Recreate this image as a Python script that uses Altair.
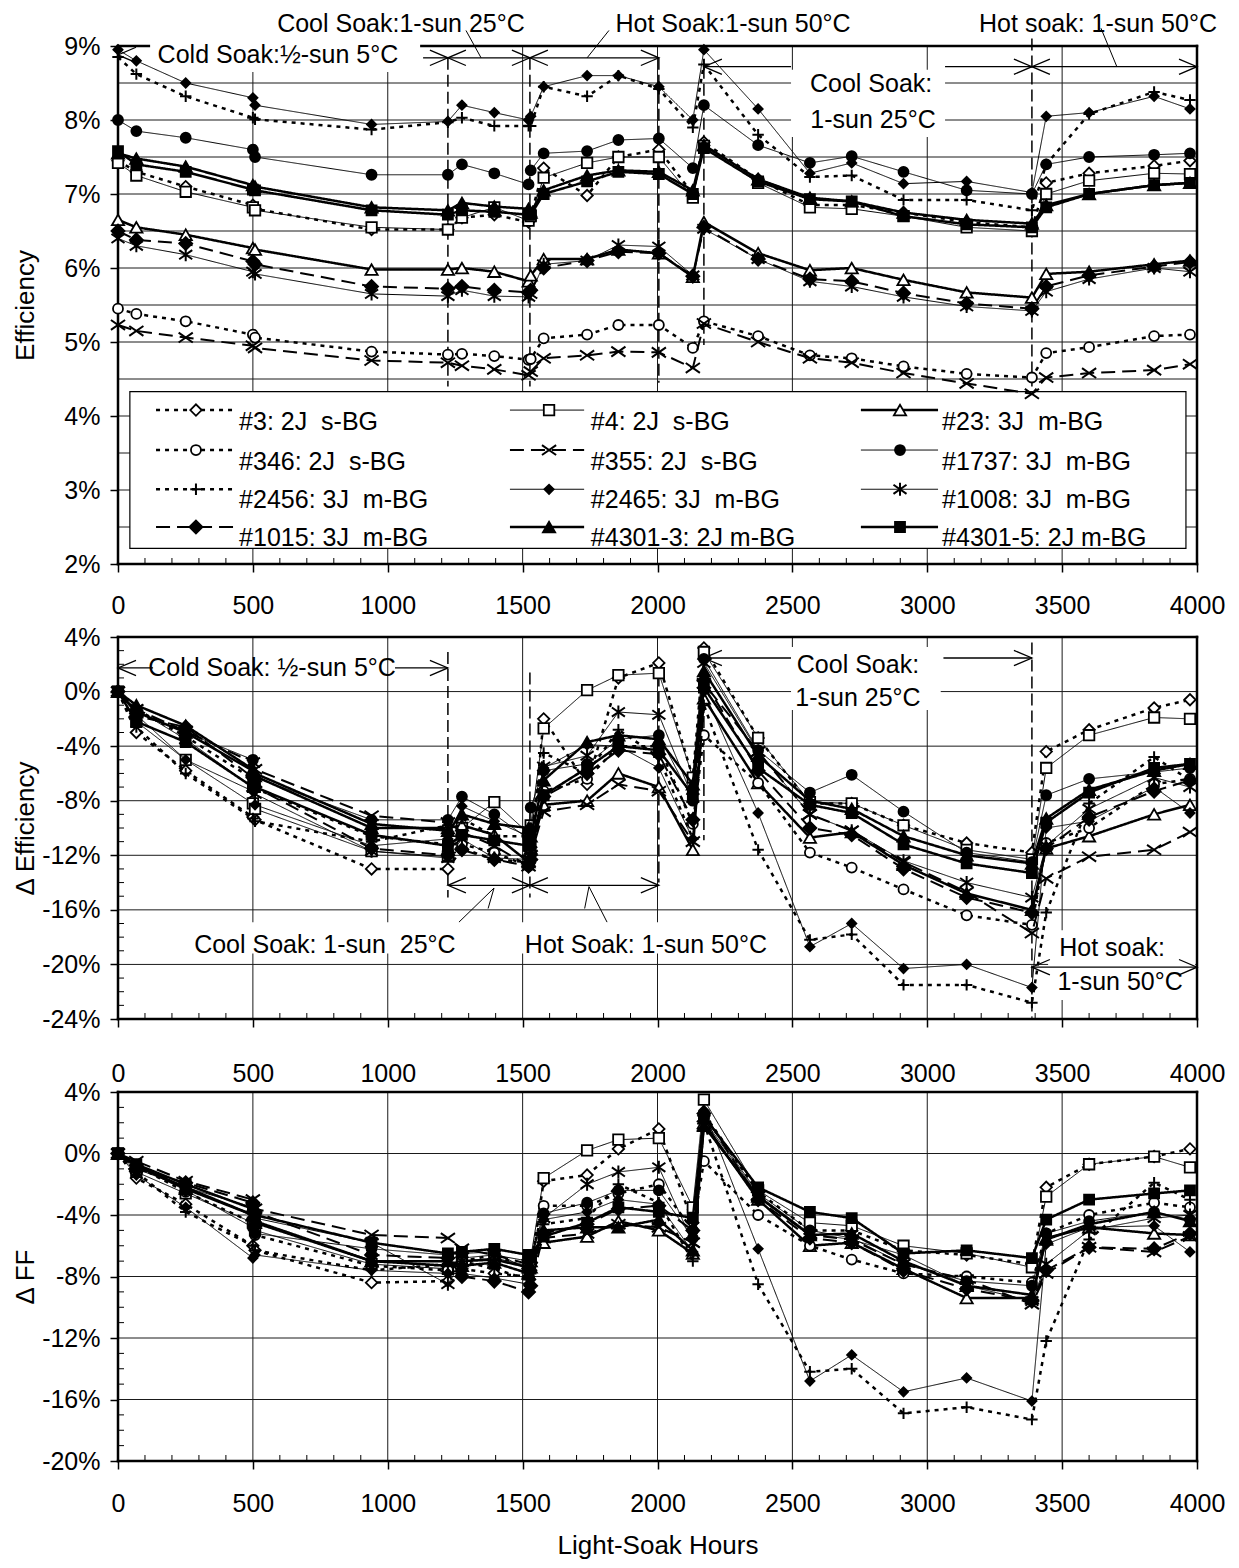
import altair as alt
import pandas as pd

# ---------------- data ----------------
HOURS = [0, 68, 251, 500, 508, 940, 1223, 1275, 1395, 1522, 1530, 1578, 1739, 1855, 2005,
         2131, 2172, 2373, 2565, 2720, 2912, 3146, 3388, 3441, 3600, 3841, 3974]

SERIES = ["#3: 2J  s-BG", "#4: 2J  s-BG", "#23: 3J  m-BG",
          "#346: 2J  s-BG", "#355: 2J  s-BG", "#1737: 3J  m-BG",
          "#2456: 3J  m-BG", "#2465: 3J  m-BG", "#1008: 3J  m-BG",
          "#1015: 3J  m-BG", "#4301-3: 2J m-BG", "#4301-5: 2J m-BG"]

# Efficiency (%)
EFF_3 = [7.45, 7.30, 7.10, 6.85, 6.80, 6.52, 6.52, 6.68, 6.72, 6.62, 6.70, 7.35, 6.98, 7.50, 7.60, 7.00, 7.70, 7.20, 6.85, 6.85, 6.75, 6.62, 6.55, 7.15, 7.28, 7.38, 7.45]
EFF_4 = [7.42, 7.25, 7.03, 6.82, 6.78, 6.55, 6.52, 6.68, 6.82, 6.64, 6.70, 7.22, 7.42, 7.50, 7.50, 6.95, 7.65, 7.15, 6.82, 6.80, 6.70, 6.55, 6.50, 7.00, 7.18, 7.28, 7.27]
EFF_23 = [6.65, 6.55, 6.45, 6.27, 6.25, 5.98, 5.98, 6.00, 5.95, 5.82, 5.90, 6.12, 6.12, 6.25, 6.20, 5.88, 6.62, 6.20, 5.97, 6.00, 5.84, 5.67, 5.60, 5.92, 5.95, 6.05, 6.10]
EFF_346 = [5.45, 5.38, 5.28, 5.10, 5.06, 4.87, 4.83, 4.84, 4.81, 4.76, 4.77, 5.05, 5.10, 5.23, 5.23, 4.92, 5.28, 5.08, 4.82, 4.78, 4.67, 4.57, 4.52, 4.85, 4.93, 5.08, 5.10]
EFF_355 = [5.23, 5.15, 5.06, 4.95, 4.92, 4.75, 4.72, 4.68, 4.63, 4.55, 4.60, 4.78, 4.82, 4.87, 4.86, 4.65, 5.25, 5.00, 4.78, 4.72, 4.58, 4.44, 4.30, 4.52, 4.58, 4.62, 4.70]
EFF_1737 = [8.00, 7.85, 7.76, 7.60, 7.50, 7.26, 7.26, 7.40, 7.28, 7.13, 7.32, 7.55, 7.58, 7.73, 7.75, 7.35, 8.20, 7.66, 7.42, 7.51, 7.30, 7.05, 7.00, 7.40, 7.50, 7.53, 7.55]
EFF_2456 = [8.85, 8.62, 8.32, 8.03, 8.01, 7.87, 7.97, 8.03, 7.92, 7.92, 7.92, 8.45, 8.32, 8.60, 8.42, 7.90, 8.75, 7.80, 7.23, 7.25, 6.92, 6.92, 6.78, 7.40, 8.08, 8.38, 8.27]
EFF_2465 = [8.95, 8.80, 8.50, 8.30, 8.20, 7.94, 7.98, 8.20, 8.10, 8.00, 8.05, 8.45, 8.60, 8.60, 8.45, 8.00, 8.95, 8.15, 7.28, 7.42, 7.14, 7.17, 7.02, 8.05, 8.10, 8.32, 8.15]
EFF_1008 = [6.40, 6.30, 6.18, 5.95, 5.92, 5.65, 5.62, 5.70, 5.62, 5.61, 5.65, 6.05, 6.10, 6.31, 6.29, 5.90, 6.53, 6.12, 5.82, 5.75, 5.61, 5.48, 5.42, 5.68, 5.85, 6.00, 5.95]
EFF_1015 = [6.50, 6.38, 6.33, 6.09, 6.05, 5.75, 5.72, 5.75, 5.70, 5.67, 5.70, 6.00, 6.10, 6.22, 6.20, 5.89, 6.55, 6.12, 5.85, 5.82, 5.66, 5.52, 5.45, 5.75, 5.90, 6.02, 6.08]
EFF_4301_3 = [7.55, 7.48, 7.37, 7.12, 7.10, 6.82, 6.78, 6.88, 6.83, 6.80, 6.75, 7.05, 7.25, 7.32, 7.30, 7.05, 7.66, 7.20, 6.95, 6.90, 6.75, 6.65, 6.60, 6.85, 7.00, 7.12, 7.15]
EFF_4301_5 = [7.58, 7.40, 7.30, 7.06, 7.05, 6.78, 6.72, 6.78, 6.76, 6.72, 6.72, 7.00, 7.17, 7.30, 7.27, 7.00, 7.62, 7.17, 6.93, 6.90, 6.70, 6.59, 6.55, 6.82, 7.00, 7.12, 7.15]

# Delta efficiency (%)
DEFF_3 = [0, -3.0, -5.8, -9.2, -9.4, -13.0, -13.0, -11.5, -12.3, -12.5, -12.0, -2.0, -6.8, 1.0, 2.1, -6.3, 3.2, -3.4, -8.2, -8.2, -9.8, -11.1, -11.8, -4.4, -2.8, -1.2, -0.6]
DEFF_4 = [0, -2.2, -5.0, -8.2, -8.6, -11.7, -12.1, -10.0, -8.1, -10.4, -9.8, -2.7, 0.1, 1.2, 1.35, -6.3, 2.9, -3.4, -8.1, -8.2, -9.8, -11.6, -12.3, -5.6, -3.2, -1.9, -2.0]
DEFF_23 = [0, -1.5, -3.0, -5.8, -6.2, -10.0, -10.0, -9.8, -10.5, -12.5, -11.5, -8.3, -8.0, -6.0, -7.0, -11.6, -0.5, -6.7, -10.7, -10.3, -12.7, -14.8, -16.0, -11.5, -10.6, -9.0, -8.3]
DEFF_346 = [0, -1.3, -3.3, -6.4, -7.1, -10.6, -11.2, -11.2, -11.8, -12.8, -12.4, -7.3, -6.4, -4.0, -4.0, -9.7, -3.2, -6.7, -11.8, -12.9, -14.5, -16.4, -17.1, -11.1, -10.0, -6.8, -6.4]
DEFF_355 = [0, -1.3, -2.9, -5.2, -5.7, -9.1, -9.6, -10.3, -11.3, -12.8, -12.0, -8.8, -8.3, -6.8, -7.3, -11.0, 0.6, -4.4, -9.0, -10.2, -12.5, -14.7, -17.7, -13.7, -12.1, -11.6, -10.3]
DEFF_1737 = [0, -1.5, -3.0, -5.0, -6.3, -9.4, -9.4, -7.7, -9.0, -10.8, -8.5, -5.8, -5.3, -3.5, -3.2, -8.0, 2.4, -4.3, -7.4, -6.1, -8.8, -11.8, -12.5, -7.6, -6.4, -5.9, -5.6]
DEFF_2456 = [0, -2.6, -6.0, -9.3, -9.5, -11.0, -9.8, -9.3, -10.6, -10.6, -10.6, -4.5, -6.0, -2.8, -4.8, -10.8, -1.0, -11.6, -18.2, -17.8, -21.5, -21.5, -22.8, -16.2, -8.2, -4.8, -6.5]
DEFF_2465 = [0, -1.7, -5.0, -7.3, -8.3, -11.3, -10.8, -8.4, -9.5, -10.6, -10.0, -5.6, -3.9, -4.0, -5.6, -10.8, 0.0, -8.9, -18.7, -17.0, -20.3, -20.0, -21.7, -10.0, -9.5, -7.0, -8.9]
DEFF_1008 = [0, -1.3, -3.5, -7.0, -7.5, -11.7, -12.2, -10.8, -12.2, -12.3, -11.7, -5.5, -4.7, -1.5, -1.7, -7.8, 2.1, -4.4, -9.0, -10.2, -12.4, -14.0, -15.1, -11.3, -8.6, -6.3, -7.0]
DEFF_1015 = [0, -1.8, -2.6, -6.3, -7.0, -11.5, -12.0, -11.6, -12.3, -12.8, -12.3, -7.7, -6.0, -4.3, -4.6, -9.4, 0.8, -5.8, -10.0, -10.5, -13.0, -15.1, -16.2, -11.5, -9.2, -7.3, -6.5]
DEFF_4301_3 = [0, -1.0, -2.5, -5.7, -6.0, -9.7, -10.2, -9.0, -9.7, -10.0, -10.6, -6.5, -3.7, -3.2, -3.5, -6.8, 1.5, -4.7, -8.0, -8.6, -10.6, -12.0, -12.6, -9.3, -7.2, -5.8, -5.3]
DEFF_4301_5 = [0, -2.2, -3.7, -7.0, -7.0, -10.5, -11.3, -10.5, -10.9, -11.3, -11.3, -7.6, -5.6, -4.0, -4.3, -7.6, 0.3, -5.6, -8.3, -8.9, -11.2, -12.6, -13.3, -9.6, -7.4, -5.6, -5.3]

# Delta FF (%)
DFF_3 = [0, -1.6, -3.3, -6.0, -6.3, -8.4, -8.3, -7.5, -7.8, -8.0, -7.6, -1.8, -1.4, 0.3, 1.6, -4.5, 2.6, -2.5, -5.0, -5.0, -6.3, -6.6, -7.2, -2.2, -0.7, -0.2, 0.3]
DFF_4 = [0, -1.2, -2.6, -4.5, -5.0, -7.2, -7.5, -6.8, -6.6, -7.0, -6.8, -1.6, 0.2, 0.9, 1.0, -3.5, 3.5, -2.4, -4.5, -4.7, -6.0, -6.5, -7.4, -2.8, -0.7, -0.2, -0.9]
DFF_23 = [0, -0.8, -2.2, -4.0, -4.5, -7.0, -7.3, -7.0, -6.9, -7.4, -7.0, -5.8, -5.4, -4.4, -5.0, -6.5, 2.0, -3.0, -6.0, -5.8, -7.5, -9.4, -9.4, -5.5, -4.8, -5.2, -5.3]
DFF_346 = [0, -0.8, -2.5, -4.5, -5.3, -7.3, -7.6, -7.0, -6.6, -7.5, -7.0, -3.4, -3.4, -2.6, -2.0, -5.0, -0.5, -4.0, -6.0, -6.9, -7.8, -8.0, -8.4, -5.2, -4.0, -3.2, -3.5]
DFF_355 = [0, -0.5, -1.8, -3.0, -3.6, -5.3, -5.5, -6.2, -6.6, -7.2, -6.8, -5.5, -5.2, -4.6, -4.8, -5.8, 1.8, -2.8, -5.3, -5.6, -7.2, -8.2, -9.8, -7.8, -6.1, -6.4, -5.4]
DFF_1737 = [0, -0.8, -2.4, -4.8, -5.2, -6.2, -6.6, -6.5, -6.4, -7.6, -6.8, -3.9, -3.2, -2.4, -2.4, -5.5, 2.4, -2.6, -5.0, -5.5, -7.2, -8.3, -8.6, -5.2, -4.4, -3.8, -4.3]
DFF_2456 = [0, -1.2, -3.8, -6.0, -6.3, -7.6, -7.2, -7.0, -7.5, -8.2, -7.8, -4.6, -4.2, -2.0, -3.2, -7.0, 2.0, -8.5, -14.2, -14.0, -16.9, -16.5, -17.3, -12.2, -5.6, -1.9, -3.0]
DFF_2465 = [0, -1.4, -3.5, -6.8, -6.6, -7.6, -7.8, -7.8, -8.1, -8.5, -8.2, -4.3, -3.8, -3.0, -3.3, -6.4, 2.8, -6.2, -14.8, -13.1, -15.5, -14.6, -16.1, -5.9, -4.8, -4.7, -6.4]
DFF_1008 = [0, -1.0, -2.2, -3.5, -4.2, -5.8, -8.5, -7.0, -6.8, -7.3, -6.9, -4.2, -2.0, -1.2, -0.9, -5.8, 2.2, -2.7, -5.2, -5.6, -6.6, -8.6, -9.6, -7.2, -5.0, -4.2, -4.0]
DFF_1015 = [0, -1.0, -1.9, -3.2, -3.8, -6.6, -6.8, -8.0, -8.3, -9.0, -8.6, -5.2, -4.6, -3.6, -3.4, -5.0, 2.6, -3.0, -5.5, -5.8, -7.6, -8.8, -9.6, -7.6, -6.1, -6.2, -5.2]
DFF_4301_3 = [0, -0.8, -2.3, -4.0, -4.4, -7.0, -7.0, -7.3, -7.1, -7.8, -7.4, -5.0, -4.8, -4.8, -4.3, -6.3, 1.8, -2.8, -5.3, -5.2, -7.0, -8.6, -9.2, -5.6, -4.6, -3.8, -4.4]
DFF_4301_5 = [0, -0.7, -2.0, -3.6, -4.0, -5.8, -6.5, -6.4, -6.2, -6.6, -6.6, -5.4, -4.5, -3.5, -3.8, -4.2, 2.4, -2.2, -3.8, -4.2, -6.5, -6.3, -6.8, -4.3, -3.0, -2.6, -2.4]

EFF = [EFF_3, EFF_4, EFF_23, EFF_346, EFF_355, EFF_1737, EFF_2456, EFF_2465, EFF_1008, EFF_1015, EFF_4301_3, EFF_4301_5]
DEFF = [DEFF_3, DEFF_4, DEFF_23, DEFF_346, DEFF_355, DEFF_1737, DEFF_2456, DEFF_2465, DEFF_1008, DEFF_1015, DEFF_4301_3, DEFF_4301_5]
DFF = [DFF_3, DFF_4, DFF_23, DFF_346, DFF_355, DFF_1737, DFF_2456, DFF_2465, DFF_1008, DFF_1015, DFF_4301_3, DFF_4301_5]

X_TICKS = list(range(0, 4001, 500))

# ---------------- styling ----------------
FONT = "Liberation Sans"
W = 1079
H1, H2, H3 = 518, 382, 369

P_L = "M2,-0.85L0,0L2,0.85"      # left chevron, tip at origin
P_R = "M-2,-0.85L0,0L-2,0.85"    # right chevron
P_X = "M-1,-0.7L1,0.7M-1,0.7L1,-0.7"
P_PLUS = "M-1,0L1,0M0,-1L0,1"
P_STAR = "M-1,-0.7L1,0.7M-1,0.7L1,-0.7M0,-1L0,1"

DOT, DASH, SOLID = [4, 5], [14, 7], [1, 0]
STYLE = [
    dict(dash=DOT, w=2.5, shape="diamond", fill="white", size=130),
    dict(dash=SOLID, w=1, shape="square", fill="white", size=110),
    dict(dash=SOLID, w=2.5, shape="triangle-up", fill="white", size=150),
    dict(dash=DOT, w=2.5, shape="circle", fill="white", size=100),
    dict(dash=DASH, w=2, shape=P_X, fill=None, size=200),
    dict(dash=SOLID, w=1, shape="circle", fill="black", size=100),
    dict(dash=DOT, w=2.5, shape=P_PLUS, fill=None, size=130),
    dict(dash=SOLID, w=1, shape="diamond", fill="black", size=85),
    dict(dash=SOLID, w=1, shape=P_STAR, fill=None, size=170),
    dict(dash=DASH, w=2, shape="diamond", fill="black", size=170),
    dict(dash=SOLID, w=2.5, shape="triangle-up", fill="black", size=150),
    dict(dash=SOLID, w=2.5, shape="square", fill="black", size=100),
]


def point_mark(st):
    if st["fill"] is None:
        return dict(shape=st["shape"], size=st["size"], filled=False, stroke="black",
                    strokeWidth=2, opacity=1)
    return dict(shape=st["shape"], size=st["size"], filled=True, fill=st["fill"],
                stroke="black", strokeWidth=1.8, opacity=1)


def make_x(pad, title=None):
    ax = dict(values=X_TICKS, format="d", grid=False, domain=False, tickSize=8, tickWidth=1.5,
              tickColor="black", labelFont=FONT, labelFontSize=25, labelColor="black",
              labelPadding=pad, labelFlush=False, title=title)
    if title:
        ax.update(titleFont=FONT, titleFontSize=26, titleFontWeight="normal",
                  titleColor="black", titlePadding=16)
    return alt.X("hours:Q", scale=alt.Scale(domain=[0, 4000], nice=False, zero=False),
                 axis=alt.Axis(**ax))


def make_y(domain, values, H, title):
    return alt.Y("value:Q", scale=alt.Scale(domain=domain, nice=False, zero=False),
                 axis=alt.Axis(values=values, labelExpr="datum.value + '%'", grid=False,
                               domain=False, tickSize=8, tickWidth=1.5, tickColor="black",
                               labelFont=FONT, labelFontSize=25, labelColor="black",
                               labelPadding=10, labelFlush=False, title=title, titleFont=FONT,
                               titleFontSize=26, titleFontWeight="normal", titleColor="black",
                               titleX=-93, titleY=H / 2, titleAngle=270, titleAlign="center",
                               titleBaseline="middle"))


ONE = pd.DataFrame({"k": [0]})


def base_layers(X, Y, H, hgrid, yminor):
    L = []
    L.append(alt.Chart(pd.DataFrame({"hours": list(range(500, 4000, 500))}))
             .mark_rule(color="#1a1a1a", strokeWidth=1)
             .encode(x=X, y=alt.value(0), y2=alt.value(H)))
    L.append(alt.Chart(pd.DataFrame({"value": hgrid}))
             .mark_rule(color="#1a1a1a", strokeWidth=1)
             .encode(y=Y, x=alt.value(0), x2=alt.value(W)))
    minor_x = [v for v in range(100, 4000, 100) if v % 500]
    L.append(alt.Chart(pd.DataFrame({"hours": minor_x}))
             .mark_rule(color="black", strokeWidth=1)
             .encode(x=X, y=alt.value(H), y2=alt.value(H - 6)))
    if yminor:
        L.append(alt.Chart(pd.DataFrame({"value": yminor}))
                 .mark_rule(color="black", strokeWidth=1)
                 .encode(y=Y, x=alt.value(0), x2=alt.value(6)))
    fr = dict(color="black", strokeWidth=2.5, strokeCap="square")
    L.append(alt.Chart(ONE).mark_rule(**fr).encode(x=alt.value(0), x2=alt.value(W), y=alt.value(0)))
    L.append(alt.Chart(ONE).mark_rule(**fr).encode(x=alt.value(0), x2=alt.value(W), y=alt.value(H)))
    L.append(alt.Chart(ONE).mark_rule(**fr).encode(x=alt.value(0), y=alt.value(0), y2=alt.value(H)))
    L.append(alt.Chart(ONE).mark_rule(**fr).encode(x=alt.value(W), y=alt.value(0), y2=alt.value(H)))
    return L


def annot_layers(X, Y, boxes, vdash, segs, lchev, rchev, leaders, texts):
    L = []
    if boxes:
        df = pd.DataFrame(boxes, columns=["hours", "hours2", "value", "value2"])
        L.append(alt.Chart(df).mark_rect(fill="white", stroke=None)
                 .encode(x=X, x2="hours2:Q", y=Y, y2="value2:Q"))
    df = pd.DataFrame(vdash, columns=["hours", "value", "value2"])
    L.append(alt.Chart(df).mark_rule(color="black", strokeWidth=1.5, strokeDash=[12, 5])
             .encode(x=X, y=Y, y2="value2:Q"))
    df = pd.DataFrame(segs, columns=["hours", "hours2", "value"])
    L.append(alt.Chart(df).mark_rule(color="black", strokeWidth=1.3)
             .encode(x=X, x2="hours2:Q", y=Y))
    df = pd.DataFrame(leaders, columns=["hours", "value", "hours2", "value2"])
    L.append(alt.Chart(df).mark_rule(color="black", strokeWidth=1)
             .encode(x=X, x2="hours2:Q", y=Y, y2="value2:Q"))
    for pts, path in ((lchev, P_L), (rchev, P_R)):
        df = pd.DataFrame(pts, columns=["hours", "value"])
        L.append(alt.Chart(df).mark_point(shape=path, size=324, filled=False, stroke="black",
                                          strokeWidth=1.3, opacity=1)
                 .encode(x=X, y=Y))
    df = pd.DataFrame(texts, columns=["label", "hours", "value"])
    L.append(alt.Chart(df).mark_text(font=FONT, fontSize=25, color="black", align="center",
                                     baseline="middle")
             .encode(x=X, y=Y, text="label:N"))
    return L


def data_layers(X, Y, lists):
    L = []
    for st, vals in zip(STYLE, lists):
        df = pd.DataFrame({"hours": HOURS, "value": vals})
        base = alt.Chart(df)
        L.append(base.mark_line(color="black", strokeWidth=st["w"], strokeDash=st["dash"])
                 .encode(x=X, y=Y))
        L.append(base.mark_point(**point_mark(st)).encode(x=X, y=Y))
    return L


def legend_layers(X, Y):
    L = []
    df = pd.DataFrame([[44, 3959, 4.33, 2.21]], columns=["hours", "hours2", "value", "value2"])
    L.append(alt.Chart(df).mark_rect(fill="white", stroke="black", strokeWidth=1.2)
             .encode(x=X, x2="hours2:Q", y=Y, y2="value2:Q"))
    line_x = [(141, 441), (1453, 1728), (2754, 3040)]
    mark_x = [289, 1598, 2899]
    label_x = [449, 1753, 3055]
    row_sym = [4.08, 3.54, 3.01, 2.50]
    row_lab = [3.92, 3.38, 2.86, 2.35]
    for i, (name, st) in enumerate(zip(SERIES, STYLE)):
        c, r = i % 3, i // 3
        seg = pd.DataFrame([[line_x[c][0], line_x[c][1], row_sym[r]]],
                           columns=["hours", "hours2", "value"])
        L.append(alt.Chart(seg).mark_rule(color="black", strokeWidth=st["w"], strokeDash=st["dash"])
                 .encode(x=X, x2="hours2:Q", y=Y))
        pt = pd.DataFrame([[mark_x[c], row_sym[r]]], columns=["hours", "value"])
        L.append(alt.Chart(pt).mark_point(**point_mark(st)).encode(x=X, y=Y))
        lab = pd.DataFrame([[name.replace("  ", " \u00a0"), label_x[c], row_lab[r]]],
                           columns=["label", "hours", "value"])
        L.append(alt.Chart(lab).mark_text(font=FONT, fontSize=25, color="black", align="left",
                                          baseline="middle")
                 .encode(x=X, y=Y, text="label:N"))
    return L


# ---------------- panel 1 : Efficiency ----------------
X1 = make_x(21)
Y1 = make_y([2, 9], list(range(2, 10)), H1, "Efficiency")
p1_layers = base_layers(X1, Y1, H1, [v / 2 for v in range(5, 18)], None)
p1_layers += annot_layers(
    X1, Y1,
    boxes=[(119, 1120, 9.08, 8.65), (2495, 3066, 8.68, 7.77)],
    vdash=[(1223, 8.84, 4.40), (1527, 8.84, 4.40), (2005, 8.84, 4.45),
           (2172, 8.72, 4.96), (3388, 9.10, 4.40)],
    segs=[(1131, 1223, 8.84), (1223, 1527, 8.84), (1527, 2005, 8.84),
          (2172, 2495, 8.72), (3066, 3388, 8.72), (3388, 4000, 8.72)],
    lchev=[(0, 8.88), (1223, 8.84), (1527, 8.84), (2172, 8.72), (3388, 8.72)],
    rchev=[(1223, 8.84), (1527, 8.84), (2005, 8.84), (3388, 8.72), (4000, 8.72)],
    leaders=[(1290, 9.21, 1346, 8.84), (1820, 9.21, 1739, 8.84), (3644, 9.24, 3703, 8.72)],
    texts=[("Cold Soak:\u00bd-sun 5\u00b0C", 593, 8.88),
           ("Cool Soak:1-sun 25\u00b0C", 1049, 9.30),
           ("Hot Soak:1-sun 50\u00b0C", 2280, 9.30),
           ("Hot soak: 1-sun 50\u00b0C", 3633, 9.30),
           ("Cool Soak:", 2792, 8.49),
           ("1-sun 25\u00b0C", 2799, 8.00)],
)
p1_layers += legend_layers(X1, Y1)
p1_layers += data_layers(X1, Y1, EFF)
p1 = alt.layer(*p1_layers).properties(width=W, height=H1)

# ---------------- panel 2 : Delta Efficiency ----------------
X2 = make_x(34)
Y2 = make_y([-24, 4], list(range(-24, 5, 4)), H2, "\u0394 Efficiency")
p2_layers = base_layers(X2, Y2, H2, list(range(-20, 1, 4)),
                        [v for v in range(-23, 4) if v % 4])
p2_layers += annot_layers(
    X2, Y2,
    boxes=[(2495, 3050, 3.27, -1.35), (252, 1286, -16.9, -19.2),
           (1483, 2436, -16.9, -19.2), (3448, 3993, -17.5, -22.6)],
    vdash=[(1223, 2.9, -15.1), (1527, 1.4, -15.1), (2005, 2.5, -14.0),
           (2172, 3.2, -10.9), (3388, 3.6, -23.9)],
    segs=[(0, 130, 1.73), (1027, 1223, 1.73), (1223, 1527, -14.2), (1527, 2005, -14.2),
          (2172, 2495, 2.46), (3060, 3388, 2.46), (3388, 4000, -20.2)],
    lchev=[(0, 1.73), (1223, -14.2), (1527, -14.2), (2172, 2.46), (3388, -20.2)],
    rchev=[(1223, 1.73), (1527, -14.2), (2005, -14.2), (3388, 2.46), (4000, -20.2)],
    leaders=[(1394, -14.4, 1264, -16.9), (1394, -14.4, 1372, -15.9),
             (1746, -14.3, 1813, -16.9), (1746, -14.3, 1730, -15.9)],
    texts=[("Cold Soak: \u00bd-sun 5\u00b0C", 571, 1.73),
           ("Cool Soak:", 2743, 1.95),
           ("1-sun 25\u00b0C", 2743, -0.47),
           ("Cool Soak: 1-sun \u00a025\u00b0C", 767, -18.6),
           ("Hot Soak: 1-sun 50\u00b0C", 1957, -18.6),
           ("Hot soak:", 3685, -18.8),
           ("1-sun 50\u00b0C", 3715, -21.3)],
)
p2_layers += data_layers(X2, Y2, DEFF)
p2 = alt.layer(*p2_layers).properties(width=W, height=H2)

# ---------------- panel 3 : Delta FF ----------------
X3 = make_x(22, "Light-Soak Hours")
Y3 = make_y([-20, 4], list(range(-20, 5, 4)), H3, "\u0394 FF")
p3_layers = base_layers(X3, Y3, H3, list(range(-16, 1, 4)),
                        [v for v in range(-19, 4) if v % 4])
p3_layers += data_layers(X3, Y3, DFF)
p3 = alt.layer(*p3_layers).properties(width=W, height=H3)

chart = (
    alt.vconcat(p1, p2, p3, spacing=73, bounds="flush")
    .properties(padding={"left": 3, "top": 3, "right": 0, "bottom": 0})
    .configure_view(strokeWidth=0)
    .configure(font=FONT)
)

chart.save("out.html", embed_options={"renderer": "svg", "actions": False})
